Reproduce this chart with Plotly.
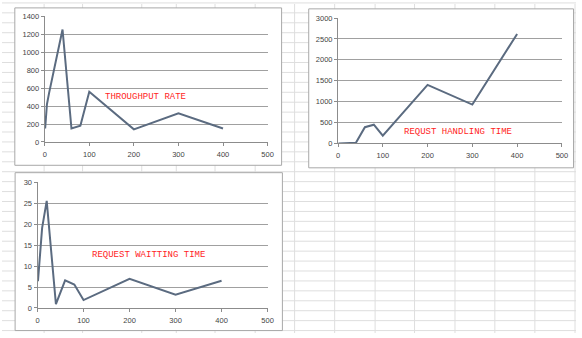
import plotly.graph_objects as go

W, H = 582, 338

# Concurrent users (x) shared by the three load-test charts
users = [1, 5, 10, 20, 40, 60, 80, 100, 200, 300, 400]

throughput_rate = [150, 420, 550, 790, 1255, 150, 180, 560, 140, 320, 150]
request_handling_time = [0, 0, 5, 8, 15, 390, 450, 185, 1400, 930, 2620]
request_waiting_time = [6.4, 12.0, 19.1, 25.6, 0.9, 6.6, 5.6, 1.9, 7.0, 3.2, 6.5]

x_ticks = [0, 100, 200, 300, 400, 500]

charts = [
    dict(y=throughput_rate, ymax=1400, dtick=200, label="THROUGHPUT RATE",
         lx=226, ly=499,
         frame=(13, 4, 283.5, 165.7), plot=(43.3, 12.7, 269.3, 141.7)),
    dict(y=request_handling_time, ymax=3000, dtick=500, label="REQUST HANDLING TIME",
         lx=269, ly=270,
         frame=(311, 5, 579.5, 168.3), plot=(340.7, 14.3, 567.7, 143.3)),
    dict(y=request_waiting_time, ymax=30, dtick=5, label="REQUEST WAITTING TIME",
         lx=242, ly=12.7,
         frame=(13.3, 173.3, 284.3, 335.5), plot=(36, 183.3, 269.3, 312.3)),
]

LINE = "#5b6b80"
GRID = "#a0a0a0"
AXIS = "#8c8c8c"


def tick_font():
    return dict(family="Liberation Sans, Arial, sans-serif", size=7.5, color="#444444")


def px(x):
    return x / W


def py(y):
    return 1 - y / H


fig = go.Figure()
shapes = []

# Worksheet cell grid behind the charts
col_lines = [42.7, 81.7, 141.7, 176.7, 216, 256.7, 296.7, 337.3, 378.3,
             418.3, 459.3, 499.7, 540.3, 581]
row_lines = [172.3 + 10.2 * k for k in range(-17, 17)]
for cx in col_lines:
    shapes.append(dict(type="line", xref="paper", yref="paper", layer="below",
                       x0=px(cx), x1=px(cx), y0=0, y1=1,
                       line=dict(color="#dedede", width=1)))
for ry in row_lines:
    shapes.append(dict(type="line", xref="paper", yref="paper", layer="below",
                       x0=0, x1=1, y0=py(ry), y1=py(ry),
                       line=dict(color="#dedede", width=1)))

layout_axes = {}
annotations = []
for i, c in enumerate(charts, start=1):
    xa = "x" if i == 1 else f"x{i}"
    ya = "y" if i == 1 else f"y{i}"
    fl, ft, fr, fb = c["frame"]
    shapes.append(dict(type="rect", xref="paper", yref="paper", layer="below",
                       x0=px(fl), x1=px(fr), y0=py(fb), y1=py(ft),
                       fillcolor="white", line=dict(color="#a8a8a8", width=1)))

    fig.add_trace(go.Scatter(x=users, y=c["y"], mode="lines", xaxis=xa, yaxis=ya,
                             line=dict(color=LINE, width=2), showlegend=False,
                             hoverinfo="skip"))

    pl, pt, pr, pb = c["plot"]
    key = "" if i == 1 else str(i)
    layout_axes["xaxis" + key] = dict(
        domain=[px(pl), px(pr)], anchor=ya, range=[0, 500],
        tickvals=x_ticks, showgrid=False, zeroline=False,
        showline=True, linecolor=AXIS, linewidth=1,
        ticks="outside", ticklen=3, tickcolor=AXIS, ticklabelstandoff=2,
        tickfont=tick_font(), fixedrange=True)
    layout_axes["yaxis" + key] = dict(
        domain=[py(pb), py(pt)], anchor=xa, range=[0, c["ymax"] * 1.001],
        dtick=c["dtick"], tick0=0, showgrid=True, gridcolor=GRID, gridwidth=1.3,
        zeroline=False, showline=True, linecolor=AXIS, linewidth=1,
        ticks="outside", ticklen=3, tickcolor=AXIS,
        tickfont=tick_font(), fixedrange=True)

    annotations.append(dict(x=c["lx"], y=c["ly"], xref=xa, yref=ya,
                            text=c["label"], showarrow=False,
                            font=dict(family="Liberation Mono, Courier New, monospace",
                                      size=9, color="#ff2424")))

fig.update_layout(
    width=W, height=H, autosize=False,
    margin=dict(l=0, r=0, t=0, b=0, pad=0),
    paper_bgcolor="white", plot_bgcolor="rgba(0,0,0,0)",
    shapes=shapes, annotations=annotations,
    **layout_axes,
)

fig.write_html("out.html", config={"displayModeBar": False})
